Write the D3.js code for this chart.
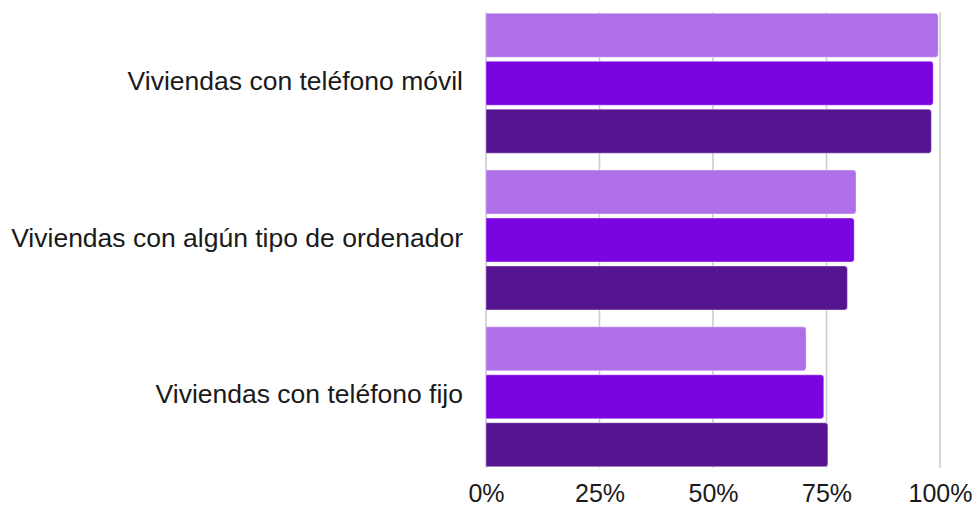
<!DOCTYPE html>
<html>
<head>
<meta charset="utf-8">
<script src="https://cdn.jsdelivr.net/npm/d3@7"></script>
<style>
  html, body { margin: 0; padding: 0; background: #fff; }
  svg { display: block; font-family: "Liberation Sans", Arial, sans-serif; }
</style>
</head>
<body>
<svg id="chart" width="977" height="506"></svg>
<script>
// Categories (top to bottom)
const categories = [
  "Viviendas con teléfono móvil",
  "Viviendas con algún tipo de ordenador",
  "Viviendas con teléfono fijo"
];
// Three series, one value per category (percent)
const series1 = [99.6, 81.5, 70.5];
const series2 = [98.5, 81.1, 74.4];
const series3 = [98.1, 79.6, 75.3];
const seriesKeys = ["s1", "s2", "s3"];
const seriesColors = ["#AE6FE8", "#7A05E0", "#561491"];
const tickValues = [0, 25, 50, 75, 100];

const rows = categories.map((c, i) => ({
  cat: c,
  values: [series1[i], series2[i], series3[i]]
}));

const svg = d3.select("#chart");
const margin = { left: 486, right: 37, top: 13.3, bottom: 39.3 };
const W = 977, H = 506;

const x = d3.scaleLinear().domain([0, 100]).range([margin.left, W - margin.right]);
const y0 = d3.scaleBand().domain(categories)
  .range([margin.top, H - margin.bottom])
  .paddingInner(0.108).paddingOuter(0);
const y1 = d3.scaleBand().domain(seriesKeys)
  .range([0, y0.bandwidth()])
  .paddingInner(0.085).paddingOuter(0);

// Vertical gridlines
const gridTop = margin.top - 1;
const gridBottom = H - margin.bottom + 1;
svg.append("g").selectAll("line").data(tickValues).join("line")
  .attr("x1", d => x(d)).attr("x2", d => x(d))
  .attr("y1", gridTop).attr("y2", gridBottom)
  .attr("stroke", "#cccccc").attr("stroke-width", 1.6);

// Bars with rounded right ends
function barPath(x0, x1, yTop, h, r) {
  r = Math.min(r, (x1 - x0), h / 2);
  return `M${x0},${yTop}H${x1 - r}Q${x1},${yTop} ${x1},${yTop + r}` +
         `V${yTop + h - r}Q${x1},${yTop + h} ${x1 - r},${yTop + h}H${x0}Z`;
}

const groups = svg.append("g").selectAll("g").data(rows).join("g")
  .attr("transform", d => `translate(0,${y0(d.cat)})`);

groups.selectAll("path").data(d => d.values.map((v, j) => ({ key: seriesKeys[j], v, j })))
  .join("path")
  .attr("d", d => barPath(x(0), x(d.v), y1(d.key), y1.bandwidth(), 3))
  .attr("fill", d => seriesColors[d.j])
  .attr("stroke", "rgba(255,255,255,0.35)")
  .attr("stroke-width", 1);

// Category labels
svg.append("g").selectAll("text").data(categories).join("text")
  .attr("x", margin.left - 23)
  .attr("y", d => y0(d) + y0.bandwidth() / 2)
  .attr("dy", "0.25em")
  .attr("text-anchor", "end")
  .attr("font-size", 26.5)
  .attr("fill", "#1a1a1a")
  .text(d => d);

// X axis tick labels
const xAxis = d3.axisBottom(x).tickValues(tickValues)
  .tickFormat(d => d + "%").tickSize(0).tickPadding(0);
const ax = svg.append("g")
  .attr("transform", `translate(0,${H - margin.bottom})`)
  .call(xAxis);
ax.select(".domain").remove();
ax.selectAll("text")
  .attr("font-size", 25)
  .attr("font-family", "Liberation Sans, Arial, sans-serif")
  .attr("fill", "#1a1a1a")
  .attr("dy", "1.42em");
</script>
</body>
</html>
